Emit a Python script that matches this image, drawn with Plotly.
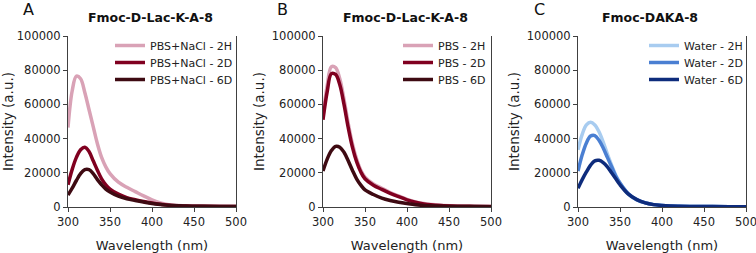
import plotly.graph_objects as go

W, H = 756, 253

wavelength = [300, 305, 310, 315, 320, 325, 330, 335, 340, 345, 350,
              360, 370, 380, 390, 400, 410, 420, 440, 460, 480, 500]

# Panel A: Fmoc-D-Lac-K-A-8 in PBS+NaCl
a_2h = [46500, 68000, 76500, 75000, 67000, 57000, 47000, 37000, 29000, 23500, 19500,
        14500, 11500, 9000, 6500, 4200, 2400, 1300, 700, 500, 400, 300]
a_2d = [13000, 22000, 29000, 33500, 35000, 32500, 27000, 21500, 16500, 13000, 10500,
        7500, 5500, 4300, 3200, 2300, 1600, 1100, 600, 400, 300, 250]
a_6d = [7000, 11000, 15500, 19500, 21800, 21800, 19500, 16000, 13000, 10500, 8800,
        6300, 4800, 3800, 2900, 2100, 1500, 1000, 600, 400, 300, 250]

# Panel B: Fmoc-D-Lac-K-A-8 in PBS
b_2h = [53000, 71000, 82000, 81500, 75000, 63000, 49000, 37000, 28000, 21500, 17500,
        13500, 11000, 8500, 6500, 4500, 3000, 2000, 1000, 600, 400, 300]
b_2d = [51000, 67500, 78000, 77500, 71500, 60000, 46500, 35000, 26500, 20500, 16500,
        12700, 10300, 8000, 6000, 4200, 2800, 1800, 900, 500, 350, 250]
b_6d = [21000, 28000, 33000, 35500, 35000, 32000, 27000, 21500, 16500, 12800, 10000,
        7300, 5200, 3800, 2800, 2000, 1300, 900, 500, 300, 250, 200]

# Panel C: Fmoc-DAKA-8 in water
c_2h = [33500, 42500, 48000, 49500, 48000, 44000, 38000, 31000, 24500, 18500, 14000,
        7500, 4200, 2400, 1400, 900, 600, 450, 300, 250, 200, 150]
c_2d = [21000, 30500, 37500, 41500, 41800, 39000, 34500, 29000, 23500, 18000, 14000,
        7800, 4300, 2500, 1400, 900, 600, 450, 300, 250, 200, 150]
c_6d = [11000, 16000, 20500, 24500, 27000, 27300, 26000, 23500, 20000, 16500, 13000,
        7500, 4300, 2400, 1400, 900, 600, 450, 300, 250, 200, 150]

panel_titles = ["Fmoc-D-Lac-K-A-8", "Fmoc-D-Lac-K-A-8", "Fmoc-DAKA-8"]
panel_letters = ["A", "B", "C"]
names_a = ["PBS+NaCl - 2H", "PBS+NaCl - 2D", "PBS+NaCl - 6D"]
names_b = ["PBS - 2H", "PBS - 2D", "PBS - 6D"]
names_c = ["Water - 2H", "Water - 2D", "Water - 6D"]

red_colors = ["#D9A2B6", "#800020", "#3E0A12"]
blue_colors = ["#A8CCF0", "#4A7FD2", "#0E2C7C"]

FONT = "DejaVu Sans"
AXC = "#404040"
TXT = "#222222"

def px_x(p):
    return p / W

def px_y(p):
    return 1 - p / H

x_domains = [(68, 236), (323, 491), (578, 746)]
y_dom = [px_y(207), px_y(36)]

panels = [
    (a_2h, a_2d, a_6d, names_a, red_colors),
    (b_2h, b_2d, b_6d, names_b, red_colors),
    (c_2h, c_2d, c_6d, names_c, blue_colors),
]

legend_left = [110, 398, 644]
row_tops = [31, 48, 65]

fig = go.Figure()
layout = dict(
    width=W, height=H,
    margin=dict(l=0, r=0, t=0, b=0, autoexpand=False),
    paper_bgcolor="white", plot_bgcolor="white",
    font=dict(family=FONT, color=TXT, size=11.5),
    showlegend=True,
)

k = 0
for i, (s1, s2, s3, names, cols) in enumerate(panels):
    xa = "x" if i == 0 else f"x{i+1}"
    ya = "y" if i == 0 else f"y{i+1}"
    for j, (s, n, c) in enumerate(zip((s1, s2, s3), names, cols)):
        k += 1
        lid = "legend" if k == 1 else f"legend{k}"
        fig.add_trace(go.Scatter(
            x=wavelength, y=s, name=n, mode="lines",
            line=dict(color=c, width=3.5, shape="spline", smoothing=1.0),
            xaxis=xa, yaxis=ya, legend=lid))
        layout[lid] = dict(
            x=px_x(legend_left[i]), xanchor="left", y=px_y(row_tops[j]), yanchor="top",
            bgcolor="rgba(0,0,0,0)", borderwidth=0,
            font=dict(size=11, family=FONT, color=TXT),
            itemwidth=30,
        )

for i in range(3):
    xk = "xaxis" if i == 0 else f"xaxis{i+1}"
    yk = "yaxis" if i == 0 else f"yaxis{i+1}"
    xa = "x" if i == 0 else f"x{i+1}"
    ya = "y" if i == 0 else f"y{i+1}"
    d0, d1 = x_domains[i]
    layout[xk] = dict(
        domain=[px_x(d0), px_x(d1)], anchor=ya, range=[300, 500], automargin=False,
        tickmode="array", tickvals=[300, 350, 400, 450, 500],
        ticks="outside", ticklen=4, tickcolor=AXC, showline=True,
        linecolor=AXC, linewidth=1, showgrid=False, zeroline=False,
        ticklabeloverflow="allow",
        tickfont=dict(size=11.5, family=FONT, color=TXT),
        title=dict(text="Wavelength (nm)", font=dict(size=13, family=FONT, color=TXT),
                   standoff=13),
    )
    layout[yk] = dict(
        domain=y_dom, anchor=xa, range=[0, 100000], automargin=False,
        tickmode="array", tickvals=[0, 20000, 40000, 60000, 80000, 100000],
        ticktext=["0", "20000", "40000", "60000", "80000", "100000"],
        ticks="outside", ticklen=4, tickcolor=AXC, showline=True, mirror=True,
        linecolor=AXC, linewidth=1, showgrid=False, zeroline=False,
        ticklabeloverflow="allow",
        tickfont=dict(size=11.5, family=FONT, color=TXT),
        title=dict(text="Intensity (a.u.)", font=dict(size=13.5, family=FONT, color=TXT),
                   standoff=4),
    )

fig.update_layout(**layout)

letter_x = [21, 275, 532]
title_x = [150, 405, 650]
for i in range(3):
    fig.add_annotation(text=panel_letters[i], xref="paper", yref="paper",
                       x=px_x(letter_x[i]), y=px_y(10), xanchor="left", yanchor="middle",
                       showarrow=False, font=dict(size=16, family=FONT, color="#111111"))
    fig.add_annotation(text="<b>" + panel_titles[i] + "</b>", xref="paper", yref="paper",
                       x=px_x(title_x[i]), y=px_y(17), xanchor="center", yanchor="middle",
                       showarrow=False, font=dict(size=12.5, family=FONT, color="#111111"))

fig.write_html("out.html", config={"displayModeBar": False},
               post_script="document.body.style.margin='0';document.body.style.padding='0';")
